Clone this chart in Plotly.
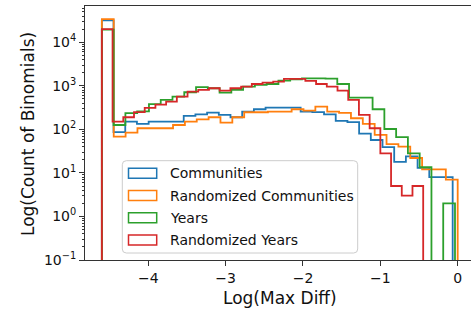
import numpy as np
import plotly.graph_objects as go

# ---------------- data ----------------
series_names = ["Communities", "Randomized Communities", "Years", "Randomized Years"]
series_colors = ["#1f77b4", "#ff7f0e", "#2ca02c", "#d62728"]

# each histogram: 30 equal bins spanning the series' own (min, max) of Log(Max Diff)
comm_range = (-4.60, -0.065)
rand_comm_range = (-4.60, 0.0)
years_range = (-4.60, -0.035)
rand_years_range = (-4.60, -0.446)

comm_counts = [32000, 86, 151, 133, 151, 151, 151, 204, 222, 243,
               215, 190, 256, 290, 316, 316, 316, 256, 250, 222,
               156, 146, 80, 57, 39, 18, 24, 13, 8, 8]
rand_comm_counts = [34000, 68, 84, 106, 106, 106, 126, 151, 170, 190,
                    143, 190, 247, 247, 256, 256, 290, 269, 333, 256,
                    240, 180, 133, 75, 46, 40, 22, 12, 12, 7]
years_counts = [19500, 126, 237, 260, 378, 474, 565, 712, 930, 880,
                698, 804, 955, 1048, 1100, 1318, 1415, 1490, 1490, 1460,
                1100, 536, 536, 290, 102, 66, 28, 13.5, 0, 2]
rand_years_counts = [20000, 151, 190, 250, 310, 370, 433, 565, 736, 804,
                     880, 775, 880, 955, 1100, 1183, 1250, 1440, 1440, 1300,
                     1100, 955, 775, 474, 215, 106, 28, 5, 3, 5]

n_bins = 30
x_ticks = [-4, -3, -2, -1, 0]
x_tick_labels = ["\u22124", "\u22123", "\u22122", "\u22121", "0"]
y_ticks = [0.1, 1, 10, 100, 1000, 10000]
y_tick_labels = ["10<sup>\u22121</sup>", "10<sup>0</sup>", "10<sup>1</sup>",
                 "10<sup>2</sup>", "10<sup>3</sup>", "10<sup>4</sup>"]

x_title = "Log(Max Diff)"
y_title = "Log(Count of Binomials)"

# ---------------- figure ----------------
W, H = 471, 310
L, R, T, B = 85, 0, 6, 50
FONT = "DejaVu Sans"
FLOOR = 1e-3  # below the axis => drawn down to the bottom edge


def px(X):
    return (X - L) / (W - L - R)


def py(Y):
    return (H - B - Y) / (H - T - B)


fig = go.Figure()
ranges = [comm_range, rand_comm_range, years_range, rand_years_range]
counts = [comm_counts, rand_comm_counts, years_counts, rand_years_counts]
for name, col, rng, cnt in zip(series_names, series_colors, ranges, counts):
    edges = np.linspace(rng[0], rng[1], n_bins + 1)
    c = [v if v > 0 else FLOOR for v in cnt]
    xs = [edges[0]] + list(edges[:-1]) + [edges[-1]]
    ys = [FLOOR] + c + [FLOOR]
    fig.add_trace(go.Scatter(x=xs, y=ys, mode="lines", name=name,
                             line=dict(color=col, width=1.8, shape="hv"),
                             showlegend=False, hoverinfo="skip"))

axis_col = "#333333"
fig.update_xaxes(range=[-4.818, 0.172], tickvals=x_ticks, ticktext=x_tick_labels,
                 ticks="outside", ticklen=5, tickwidth=1, tickcolor=axis_col,
                 showline=True, linecolor=axis_col, linewidth=1, mirror=True,
                 showgrid=False, zeroline=False,
                 tickfont=dict(family=FONT, size=14, color="#111"))
fig.update_yaxes(type="log", range=[-1, 4.833], tickvals=y_ticks, ticktext=y_tick_labels,
                 ticks="outside", ticklen=5, tickwidth=1, tickcolor=axis_col,
                 showline=True, linecolor=axis_col, linewidth=1,
                 showgrid=False, zeroline=False,
                 minor=dict(ticks="outside", ticklen=2.5, tickwidth=0.8,
                            tickcolor=axis_col, dtick="D1", showgrid=False),
                 tickfont=dict(family=FONT, size=14, color="#111"))

# legend drawn by hand (matplotlib-style outlined patches)
lx0, lx1, ly0, ly1, rad = 122.3, 357.7, 160.7, 253.0, 4.0
rx, ry = rad / (W - L - R), rad / (H - T - B)
X0, X1, Y0, Y1 = px(lx0), px(lx1), py(ly1), py(ly0)
path = (f"M{X0 + rx},{Y0} L{X1 - rx},{Y0} Q{X1},{Y0} {X1},{Y0 + ry} "
        f"L{X1},{Y1 - ry} Q{X1},{Y1} {X1 - rx},{Y1} L{X0 + rx},{Y1} "
        f"Q{X0},{Y1} {X0},{Y1 - ry} L{X0},{Y0 + ry} Q{X0},{Y0} {X0 + rx},{Y0} Z")
shapes = [dict(type="path", path=path, xref="paper", yref="paper",
               fillcolor="rgba(255,255,255,0.8)", line=dict(color="#cccccc", width=1),
               layer="above")]
annotations = []
row_y = [173.3, 195.5, 217.7, 240.0]
for name, col, yc in zip(series_names, series_colors, row_y):
    shapes.append(dict(type="rect", xref="paper", yref="paper",
                       x0=px(128.5), x1=px(156.7), y0=py(yc + 5), y1=py(yc - 5),
                       line=dict(color=col, width=1.5), fillcolor="rgba(0,0,0,0)",
                       layer="above"))
    annotations.append(dict(text=name, xref="paper", yref="paper",
                            x=px(167.5), y=py(yc), xanchor="left", yanchor="middle",
                            showarrow=False, font=dict(family=FONT, size=14, color="#111")))

annotations.append(dict(text=x_title, xref="paper", yref="paper", x=px(280), y=py(298),
                        xanchor="center", yanchor="middle", showarrow=False,
                        font=dict(family=FONT, size=17, color="#111")))
annotations.append(dict(text=y_title, xref="paper", yref="paper", x=px(28), y=py(134),
                        xanchor="center", yanchor="middle", showarrow=False, textangle=-90,
                        font=dict(family=FONT, size=17, color="#111")))

fig.update_layout(width=W, height=H, margin=dict(l=L, r=R, t=T, b=B, pad=0),
                  paper_bgcolor="white", plot_bgcolor="white",
                  shapes=shapes, annotations=annotations, showlegend=False)

fig.write_html("out.html", config={"displayModeBar": False},
               post_script="document.body.style.margin='0';document.body.style.padding='0';")
